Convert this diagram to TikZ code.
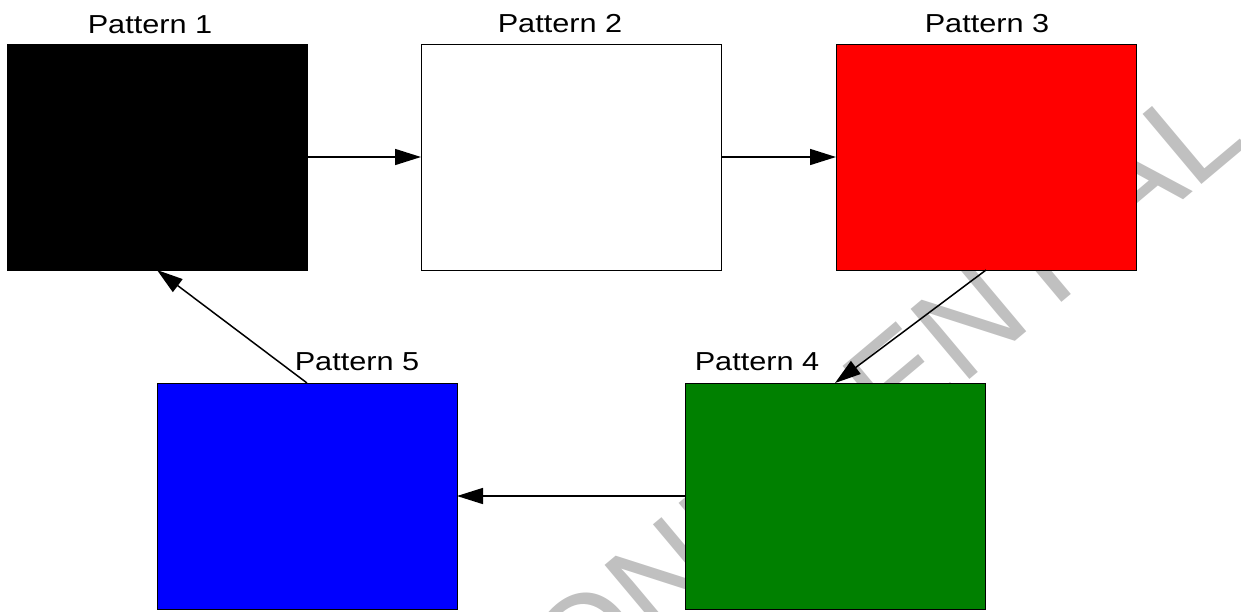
\documentclass[tikz,border=0pt]{standalone}
\usepackage{fontspec}
\setmainfont{Liberation Sans}
\usepackage{graphicx}
\usetikzlibrary{arrows.meta}
\definecolor{wmgray}{HTML}{C0C0C0}
\definecolor{pred}{HTML}{FF0000}
\definecolor{pgreen}{HTML}{008000}
\definecolor{pblue}{HTML}{0000FF}
\begin{document}
\begin{tikzpicture}[x=1pt,y=1pt,
  box/.style={draw=black, line width=0.8pt, minimum width=300pt, minimum height=226pt,
    inner sep=0pt, outer sep=0pt, anchor=north west},
  lab/.style={font=\fontsize{26}{30}\selectfont, inner sep=0pt, anchor=base},
  conn/.style={line width=1.5pt, -{Triangle[length=26pt,width=16pt]}},
  wmark/.style={anchor=base west, inner sep=0pt, rotate=40, text=wmgray,
    font=\fontsize{133}{150}\selectfont}
]
\useasboundingbox (0,0) rectangle (1241,-611);
\begin{scope}
  \clip (0,0) rectangle (1241,-611);
  \node[wmark] (wm) at (503,-771) {CONFIDENTIAL};
\end{scope}
\node[box, fill=black] (p1) at (7,-44) {};
\node[box, fill=white] (p2) at (421,-44) {};
\node[box, fill=pred] (p3) at (836,-44) {};
\node[box, fill=pgreen] (p4) at (685,-383) {};
\node[box, fill=pblue] (p5) at (157,-383) {};
\node[lab] (l1) at (150,-33) {\scalebox{1.18}[1]{Pattern 1}};
\node[lab] (l2) at (560,-32) {\scalebox{1.18}[1]{Pattern 2}};
\node[lab] (l3) at (987,-32) {\scalebox{1.18}[1]{Pattern 3}};
\node[lab] (l4) at (757,-370) {\scalebox{1.18}[1]{Pattern 4}};
\node[lab] (l5) at (357,-370) {\scalebox{1.18}[1]{Pattern 5}};
\draw[conn] (p1.east) -- (p2.west);
\draw[conn] (p2.east) -- (p3.west);
\draw[conn] (p3.south) -- (p4.north);
\draw[conn] (p4.west) -- (p5.east);
\draw[conn] (p5.north) -- (p1.south);
\end{tikzpicture}
\end{document}
